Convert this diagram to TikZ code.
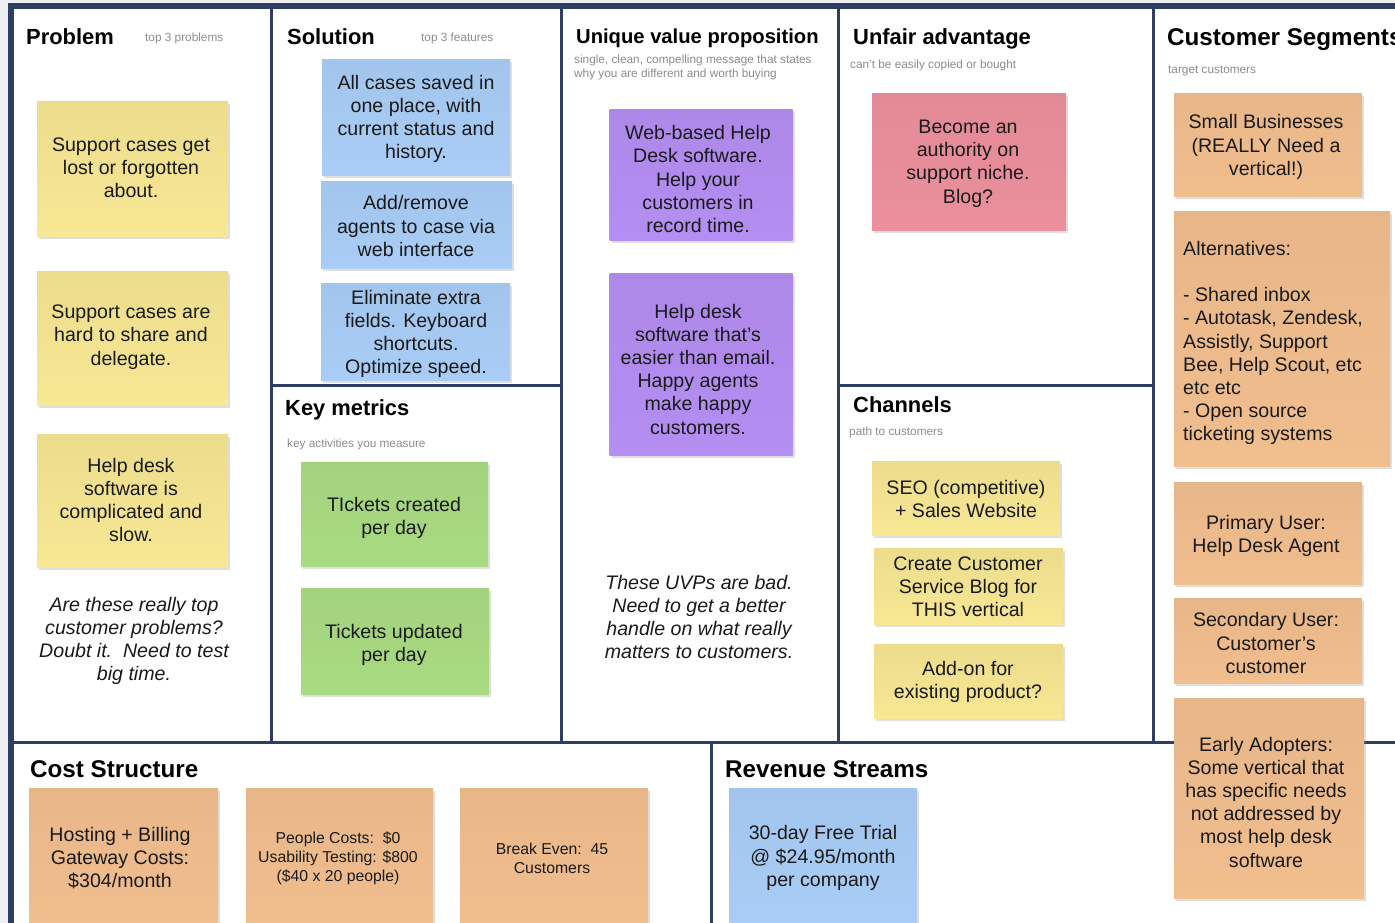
\documentclass[tikz,border=0pt]{standalone}
\usepackage{fontspec}
\setmainfont{Liberation Sans}
\usetikzlibrary{shadows}
\definecolor{framec}{HTML}{2D4063}
\definecolor{bgc}{HTML}{EFEFF1}
\definecolor{ink}{HTML}{1A1A1A}
\definecolor{subc}{HTML}{8C8C8C}
\definecolor{yel}{HTML}{F8E894}
\definecolor{blu}{HTML}{A9CDF6}
\definecolor{pur}{HTML}{B48EF2}
\definecolor{pnk}{HTML}{EB909C}
\definecolor{grn}{HTML}{A9DB82}
\definecolor{org}{HTML}{F1BE8E}
\newcommand\notefont{\fontsize{19.6}{23.2}\selectfont}
\newcommand\smallnotefont{\fontsize{15.8}{19}\selectfont}
\newcommand\headfont{\fontsize{21.9}{24}\selectfont\bfseries}
\newcommand\bigheadfont{\fontsize{24.2}{26}\selectfont\bfseries}
\newcommand\uvpheadfont{\fontsize{20.2}{24}\selectfont\bfseries}
\newcommand\subfont{\fontsize{11.8}{14}\selectfont}
\tikzset{
  frameline/.style={draw=framec, line width=3pt},
  note/.style={rectangle, inner sep=0pt,
    drop shadow={shadow xshift=2pt, shadow yshift=-2.5pt, opacity=0.25}},
  ynote/.style={note, top color=yel!95!black, bottom color=yel},
  bnote/.style={note, top color=blu!96!black, bottom color=blu},
  pnote/.style={note, top color=pur!96!black, bottom color=pur},
  knote/.style={note, top color=pnk!96!black, bottom color=pnk},
  gnote/.style={note, top color=grn!96!black, bottom color=grn},
  onote/.style={note, top color=org!96!black, bottom color=org},
  notetext/.style={align=center, inner sep=0pt, font=\notefont, text=ink},
  head/.style={anchor=base west, inner sep=0pt, font=\headfont, text=black},
  sub/.style={anchor=base west, inner sep=0pt, font=\subfont, text=subc, align=left},
  remark/.style={align=center, inner sep=0pt, font=\notefont\itshape, text=ink}
}
\begin{document}
\begin{tikzpicture}[x=1pt,y=-1pt]
\useasboundingbox (0,0) rectangle (1395,923);
\clip (0,0) rectangle (1395,923);
\fill[bgc] (0,0) rectangle (1395,923);
\fill[white] (11,6) rectangle (1400,930);
% frame
\draw[draw=framec, line width=5.5pt] (11,930) -- (11,6) -- (1400,6);
\coordinate (t1) at (271,6);  \coordinate (b1) at (271,742);
\coordinate (t2) at (561,6);  \coordinate (b2) at (561,742);
\coordinate (t3) at (838,6);  \coordinate (b3) at (838,742);
\coordinate (t4) at (1153,6); \coordinate (b4) at (1153,742);
\coordinate (hl) at (13,742); \coordinate (hr) at (1400,742);
\coordinate (m1a) at (271,385); \coordinate (m1b) at (561,385);
\coordinate (m2a) at (838,385); \coordinate (m2b) at (1153,385);
\coordinate (rv) at (711,742); \coordinate (rb) at (711,930);
\draw[frameline] (t1) -- (b1);
\draw[frameline] (t2) -- (b2);
\draw[frameline] (t3) -- (b3);
\draw[frameline] (t4) -- (b4);
\draw[frameline] (hl) -- (hr);
\draw[frameline] (m1a) -- (m1b);
\draw[frameline] (m2a) -- (m2b);
\draw[frameline] (rv) -- (rb);
% headers
\node[head] (hProb) at (26,45) {Problem};
\node[sub] (sProb) at (145,42) {top 3 problems};
\node[head] (hSol) at (287,45) {Solution};
\node[sub] (sSol) at (421,42) {top 3 features};
\node[head, font=\uvpheadfont] (hUVP) at (576,44) {Unique value proposition};
\node[sub] (sUVP1) at (574,64) {single, clean, compelling message that states};
\node[sub] (sUVP2) at (574,78) {why you are different and worth buying};
\node[head] (hUnf) at (853,45) {Unfair advantage};
\node[sub] (sUnf) at (850,69) {can't be easily copied or bought};
\node[head, font=\bigheadfont] (hCust) at (1167,46) {Customer Segments};
\node[sub] (sCust) at (1168,74) {target customers};
\node[head] (hKey) at (285,415.5) {Key metrics};
\node[sub] (sKey) at (287,447) {key activities you measure};
\node[head] (hChan) at (853,412.5) {Channels};
\node[sub] (sChan) at (849,435) {path to customers};
\node[head, font=\bigheadfont] (hCost) at (30,777) {Cost Structure};
\node[head, font=\bigheadfont] (hRev) at (725,777) {Revenue Streams};
% problem
\node[ynote, minimum width=191, minimum height=134] (p1) at (132.5,169) {};
\node[notetext] (p1t) at (131,168) {Support cases get\\lost or forgotten\\about.};
\node[ynote, minimum width=191, minimum height=134] (p2) at (132.5,338) {};
\node[notetext] (p2t) at (131,337) {Support cases are\\hard to share and\\delegate.};
\node[ynote, minimum width=191, minimum height=133] (p3) at (132.5,500.5) {};
\node[notetext] (p3t) at (131,500) {Help desk\\software is\\complicated and\\slow.};
\node[remark] (pr) at (134,641) {Are these really top\\customer problems?\\Doubt it.\ \ Need to test\\big time.};
% solution
\node[bnote, minimum width=188, minimum height=115] (s1) at (416,117.5) {};
\node[notetext] (s1t) at (416,119) {All cases saved in\\one place, with\\current status and\\history.};
\node[bnote, minimum width=191, minimum height=87] (s2) at (416.5,224.5) {};
\node[notetext] (s2t) at (416,226) {Add/remove\\agents to case via\\web interface};
\node[bnote, minimum width=189, minimum height=97] (s3) at (415.5,331.5) {};
\node[notetext] (s3t) at (416,334) {Eliminate extra\\fields. Keyboard\\shortcuts.\\Optimize speed.};
% key metrics
\node[gnote, minimum width=187, minimum height=104] (k1) at (394.5,514) {};
\node[notetext] (k1t) at (394,518) {TIckets created\\per day};
\node[gnote, minimum width=188, minimum height=106] (k2) at (395,641) {};
\node[notetext] (k2t) at (394,645) {Tickets updated\\per day};
% UVP
\node[pnote, minimum width=183, minimum height=130] (u1) at (701,175) {};
\node[notetext] (u1t) at (698,179) {Web-based Help\\Desk software.\\Help your\\customers in\\record time.};
\node[pnote, minimum width=183, minimum height=182] (u2) at (701,364) {};
\node[notetext] (u2t) at (698,369) {Help desk\\software that's\\easier than email.\\Happy agents\\make happy\\customers.};
\node[remark] (ur) at (699,617) {These UVPs are bad.\\Need to get a better\\handle on what really\\matters to customers.};
% unfair advantage
\node[knote, minimum width=194, minimum height=136] (a1) at (969,162) {};
\node[notetext] (a1t) at (968,163.5) {Become an\\authority on\\support niche.\\Blog?};
% channels
\node[ynote, minimum width=188, minimum height=74] (c1) at (966,498) {};
\node[notetext] (c1t) at (966,499) {SEO (competitive)\\+ Sales Website};
\node[ynote, minimum width=189, minimum height=76] (c2) at (968.5,586) {};
\node[notetext] (c2t) at (968,587) {Create Customer\\Service Blog for\\THIS vertical};
\node[ynote, minimum width=189, minimum height=74] (c3) at (968.5,681) {};
\node[notetext] (c3t) at (968,682) {Add-on for\\existing product?};
% customer segments
\node[onote, minimum width=188, minimum height=102] (g1) at (1268,145) {};
\node[notetext] (g1t) at (1266,147) {Small Businesses\\(REALLY Need a\\vertical!)};
\node[onote, minimum width=216, minimum height=255] (g2) at (1282,338.5) {};
\node[notetext, anchor=west, align=left] (g2t) at (1183,343) {Alternatives:\\[23.2pt]- Shared inbox\\- Autotask, Zendesk,\\Assistly, Support\\Bee, Help Scout, etc\\etc etc\\- Open source\\ticketing systems};
\node[onote, minimum width=188, minimum height=102] (g3) at (1268,533) {};
\node[notetext] (g3t) at (1266,536) {Primary User:\\Help Desk Agent};
\node[onote, minimum width=188, minimum height=85] (g4) at (1268,640.5) {};
\node[notetext] (g4t) at (1266,643) {Secondary User:\\Customer's\\customer};
\node[onote, minimum width=190, minimum height=200] (g5) at (1269,798) {};
\node[notetext] (g5t) at (1266,802) {Early Adopters:\\Some vertical that\\has specific needs\\not addressed by\\most help desk\\software};
% cost structure
\node[onote, minimum width=189, minimum height=138] (x1) at (123.5,857) {};
\node[notetext] (x1t) at (120,858) {Hosting + Billing\\Gateway Costs:\\\$304/month};
\node[onote, minimum width=187, minimum height=138] (x2) at (339.5,857) {};
\node[notetext, font=\smallnotefont] (x2t) at (338,858) {People Costs:\ \ \$0\\Usability Testing: \$800\\(\$40 x 20 people)};
\node[onote, minimum width=188, minimum height=138] (x3) at (554,857) {};
\node[notetext, font=\smallnotefont] (x3t) at (552,858) {Break Even:\ \ 45\\Customers};
% revenue
\node[bnote, minimum width=188, minimum height=138] (r1) at (823,857.5) {};
\node[notetext] (r1t) at (823,858) {30-day Free Trial\\@ \$24.95/month\\per company};
\end{tikzpicture}
\end{document}
